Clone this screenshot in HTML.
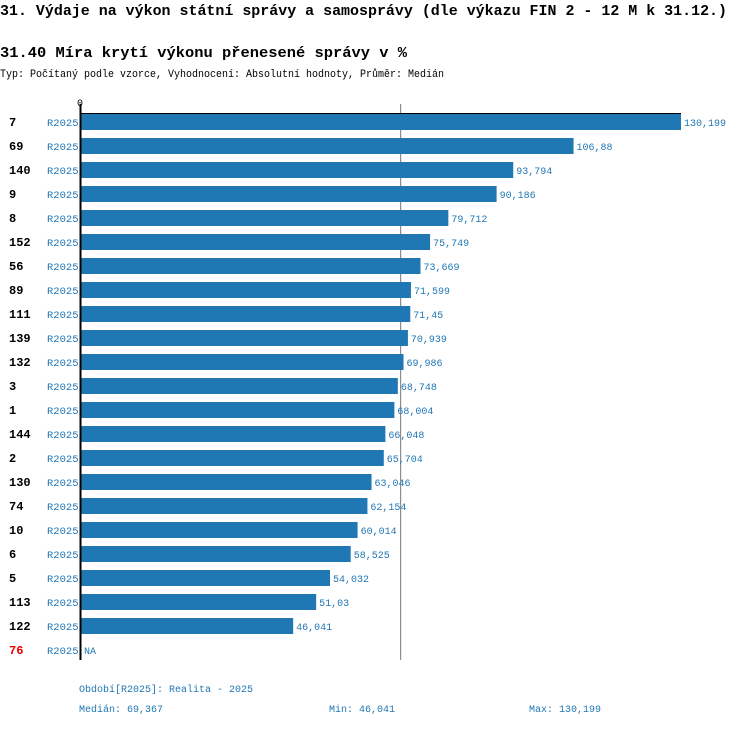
<!DOCTYPE html>
<html><head><meta charset="utf-8"><style>
body{margin:0;background:#fff;width:750px;height:726px;overflow:hidden;font-family:"Liberation Mono",monospace}
svg text{font-family:"Liberation Mono",monospace}
</style></head><body>
<svg id="c" width="750" height="726">
<text x="0" y="15" font-size="15" font-weight="bold" textLength="727" lengthAdjust="spacingAndGlyphs">31. Výdaje na výkon státní správy a samosprávy (dle výkazu FIN 2 - 12 M k 31.12.)</text>
<text x="0" y="57" font-size="15" font-weight="bold" textLength="407" lengthAdjust="spacingAndGlyphs">31.40 Míra krytí výkonu přenesené správy v %</text>
<text x="0" y="77" font-size="11" textLength="444" lengthAdjust="spacingAndGlyphs">Typ: Počítaný podle vzorce, Vyhodnocení: Absolutní hodnoty, Průměr: Medián</text>
<g id="bars"></g>
<text x="79" y="692" font-size="10" fill="#1f77b4">Období[R2025]: Realita - 2025</text>
<text x="79" y="712" font-size="10" fill="#1f77b4">Medián: 69,367</text>
<text x="329" y="712" font-size="10" fill="#1f77b4">Min: 46,041</text>
<text x="529" y="712" font-size="10" fill="#1f77b4">Max: 130,199</text>
</svg>
<script>
const categories=["7","69","140","9","8","152","56","89","111","139","132","3","1","144","2","130","74","10","6","5","113","122","76"];
const values=[130.199,106.88,93.794,90.186,79.712,75.749,73.669,71.599,71.45,70.939,69.986,68.748,68.004,66.048,65.704,63.046,62.154,60.014,58.525,54.032,51.03,46.041,null];
const median=69.367;
const NS="http://www.w3.org/2000/svg";
const g=document.getElementById('bars');
const x0=81,xMax=681,vMax=130.199,y0=114,step=24,bh=16;
const xs=v=>x0+(v/vMax)*(xMax-x0);
const ys=i=>y0+i*step;
function mk(t,a){const e=document.createElementNS(NS,t);for(const k in a)e.setAttribute(k,a[k]);g.appendChild(e);return e;}
const yEnd=ys(categories.length)-6;
let ml=mk('line',{x1:xs(median),x2:xs(median),y1:104,y2:yEnd,stroke:'#777','stroke-width':1});


categories.forEach((c,i)=>{
  const y=ys(i),v=values[i];
  let t=mk('text',{x:9,y:y+12,'font-size':12,'font-weight':'bold',fill:v==null?'#e00':'#000'});t.textContent=c;
  
  
  let p=mk('text',{x:47,y:y+12,'font-size':10.5,fill:'#1f77b4'});p.textContent='R2025';
  
  
  if(v!=null){
    let r=mk('rect',{x:x0,y:y,width:xs(v)-x0,height:bh,fill:'#1f77b4'});
    
    
  }
  let vl=mk('text',{x:(v==null?x0:xs(v))+3,y:y+12,'font-size':10,fill:'#1f77b4'});
  vl.textContent=v==null?'NA':String(v).replace('.',',');
  
  
});
let ax=mk('line',{x1:80.5,x2:80.5,y1:104,y2:yEnd,stroke:'#000','stroke-width':2});


let tp=mk('line',{x1:80,x2:xMax,y1:113.5,y2:113.5,stroke:'#000','stroke-width':1});


let z=mk('text',{x:77,y:106,'font-size':10});z.textContent='0';


</script>
</body></html>
